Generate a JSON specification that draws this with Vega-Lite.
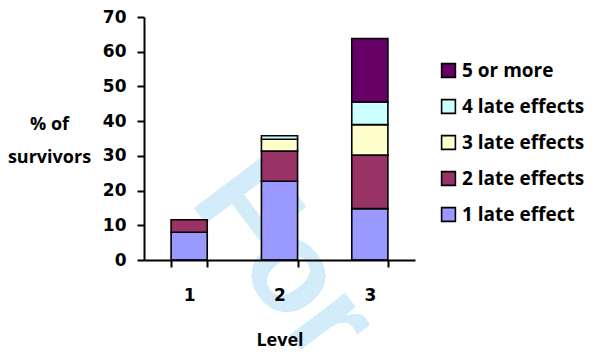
{
  "$schema": "https://vega.github.io/schema/vega-lite/v6.json",
  "autosize": "none",
  "width": 271,
  "height": 243,
  "padding": {"left": 144, "top": 17, "right": 182, "bottom": 100},
  "background": "white",
  "config": {
    "view": {"stroke": null},
    "font": "Open Sans"
  },
  "data": {
    "values": [
      {"level": "1", "effects": "1 late effect", "rank": 1, "pct": 8.0},
      {"level": "1", "effects": "2 late effects", "rank": 2, "pct": 3.6},
      {"level": "2", "effects": "1 late effect", "rank": 1, "pct": 22.7},
      {"level": "2", "effects": "2 late effects", "rank": 2, "pct": 8.7},
      {"level": "2", "effects": "3 late effects", "rank": 3, "pct": 3.4},
      {"level": "2", "effects": "4 late effects", "rank": 4, "pct": 1.0},
      {"level": "3", "effects": "1 late effect", "rank": 1, "pct": 14.8},
      {"level": "3", "effects": "2 late effects", "rank": 2, "pct": 15.4},
      {"level": "3", "effects": "3 late effects", "rank": 3, "pct": 8.8},
      {"level": "3", "effects": "4 late effects", "rank": 4, "pct": 6.5},
      {"level": "3", "effects": "5 or more", "rank": 5, "pct": 18.3}
    ]
  },
  "resolve": {"scale": {"x": "independent", "y": "independent"}},
  "layer": [
    {
      "mark": {
        "type": "text",
        "text": "For",
        "font": "Liberation Sans",
        "fontWeight": "bold",
        "fontSize": 130,
        "angle": 53,
        "color": "#D3ECFA",
        "align": "left",
        "baseline": "alphabetic"
      },
      "encoding": {
        "x": {
          "datum": "1",
          "type": "nominal",
          "bandPosition": 0.25,
          "scale": {"domain": ["1", "2", "3"], "paddingInner": 0.6, "paddingOuter": 0.3},
          "axis": null
        },
        "y": {
          "datum": 17,
          "type": "quantitative",
          "scale": {"domain": [0, 70]},
          "axis": null
        }
      }
    },
    {
      "mark": {"type": "bar", "stroke": "black", "strokeWidth": 1.6},
      "encoding": {
        "x": {
          "field": "level",
          "type": "nominal",
          "scale": {"paddingInner": 0.6, "paddingOuter": 0.3},
          "axis": {
            "zindex": 1,
            "title": "Level",
            "titleFont": "Open Sans",
            "titleFontSize": 18,
            "titleFontWeight": "bold",
            "titleColor": "black",
            "titlePadding": 28,
            "labelAngle": 0,
            "labelFont": "DejaVu Sans",
            "labelFontSize": 17,
            "labelFontWeight": "bold",
            "labelColor": "black",
            "labelPadding": 20,
            "ticks": true,
            "tickBand": "extent",
            "tickColor": "black",
            "tickWidth": 2,
            "tickSize": 7,
            "domainColor": "black",
            "domainWidth": 2
          }
        },
        "y": {
          "field": "pct",
          "type": "quantitative",
          "stack": "zero",
          "scale": {"domain": [0, 70]},
          "axis": {
            "zindex": 1,
            "title": ["% of", "survivors"],
            "titleFont": "Open Sans",
            "titleFontSize": 18,
            "titleFontWeight": "bold",
            "titleColor": "black",
            "titleAngle": 0,
            "titleAlign": "center",
            "titleBaseline": "middle",
            "titleX": -95,
            "titleY": 107,
            "titleLineHeight": 33,
            "values": [0, 10, 20, 30, 40, 50, 60, 70],
            "labelOverlap": false,
            "labelFlush": false,
            "grid": false,
            "ticks": true,
            "labelFont": "DejaVu Sans",
            "labelFontSize": 17,
            "labelFontWeight": "bold",
            "labelColor": "black",
            "labelPadding": 11,
            "tickColor": "black",
            "tickWidth": 2,
            "tickSize": 7,
            "domainColor": "black",
            "domainWidth": 2
          }
        },
        "color": {
          "field": "effects",
          "type": "nominal",
          "scale": {
            "domain": ["5 or more", "4 late effects", "3 late effects", "2 late effects", "1 late effect"],
            "range": ["#660066", "#CCFFFF", "#FFFFCC", "#993366", "#9999FF"]
          },
          "legend": {
            "title": null,
            "orient": "none",
            "legendX": 295,
            "legendY": 44,
            "symbolType": "square",
            "symbolSize": 190,
            "symbolStrokeColor": "black",
            "symbolStrokeWidth": 1.6,
            "labelFont": "Open Sans",
            "labelFontSize": 19,
            "labelFontWeight": "bold",
            "labelColor": "black",
            "labelOffset": 4,
            "rowPadding": 15,
            "labelLimit": 200
          }
        },
        "order": {"field": "rank", "type": "quantitative"}
      }
    }
  ]
}
